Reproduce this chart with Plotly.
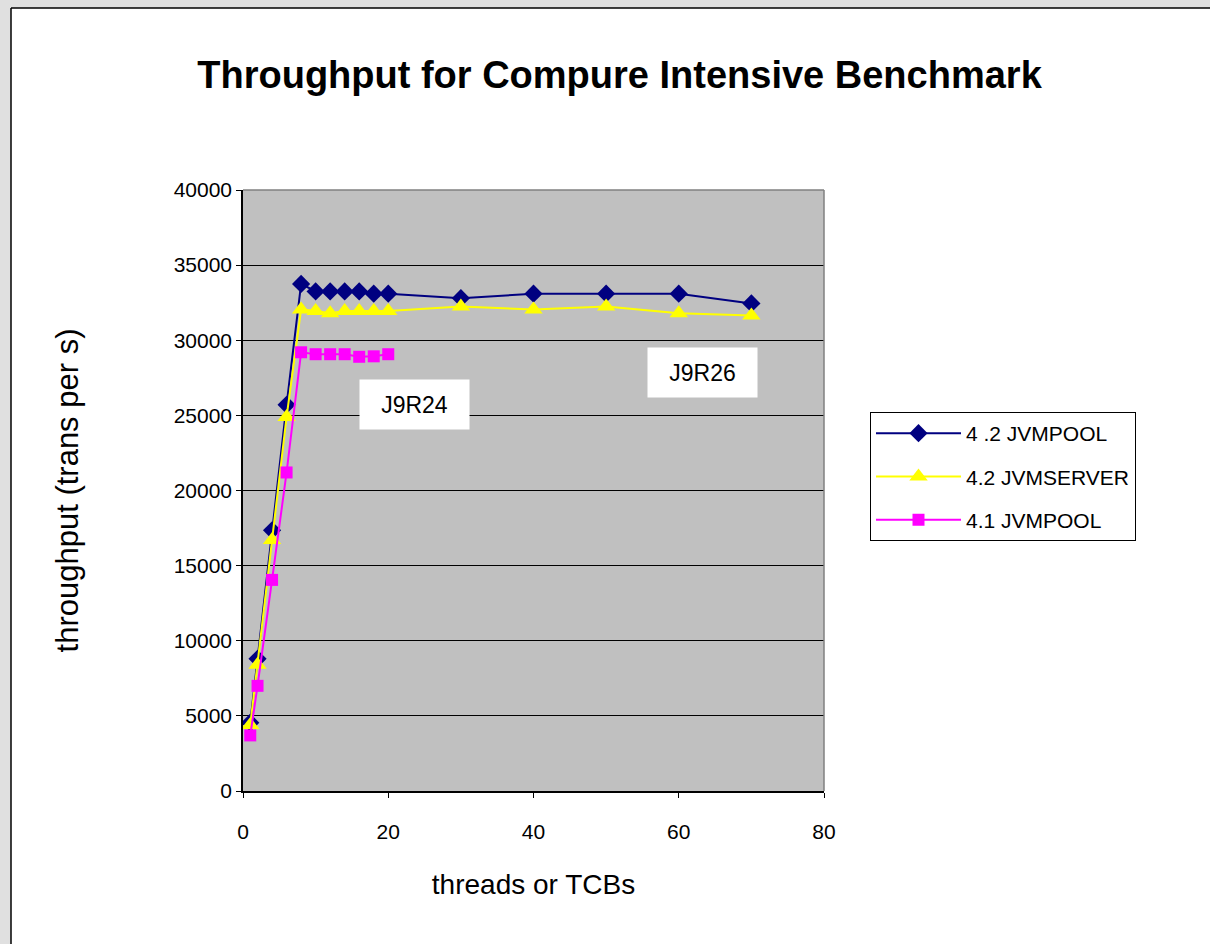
import plotly.graph_objects as go

threads = [1, 2, 4, 6, 8, 10, 12, 14, 16, 18, 20, 30, 40, 50, 60, 70]
jvmpool_42 = [4550, 8800, 17350, 25700, 33750, 33250, 33250, 33250, 33250, 33100, 33100,
              32800, 33100, 33100, 33100, 32450]
jvmserver_42 = [4400, 8400, 16700, 24900, 32050, 31950, 31800, 31950, 31950, 31950, 31950,
                32250, 32050, 32250, 31800, 31650]
threads_41 = [1, 2, 4, 6, 8, 10, 12, 14, 16, 18, 20]
jvmpool_41 = [3700, 7000, 14050, 21200, 29200, 29070, 29070, 29070, 28900, 28930, 29070]

names = ["4 .2 JVMPOOL", "4.2 JVMSERVER", "4.1 JVMPOOL"]
labels = [("J9R24", 23.6, 25720), ("J9R26", 63.3, 27850)]

FONT = "Liberation Sans, Arial, sans-serif"
W, H = 1210, 944
L, R, T, B = 243, 824, 190, 791

fig = go.Figure()
fig.add_trace(go.Scatter(x=threads, y=jvmpool_42, name=names[0], mode="lines+markers",
                         legendgroup="a",
                         line=dict(color="#000080", width=2),
                         marker=dict(symbol="diamond", size=14, color="#000080")))
fig.add_trace(go.Scatter(x=threads, y=jvmserver_42, name=names[1], mode="lines+markers",
                         legendgroup="b",
                         line=dict(color="#FFFF00", width=2),
                         marker=dict(symbol="triangle-up", size=16, color="#FFFF00")))
fig.add_trace(go.Scatter(x=threads_41, y=jvmpool_41, name=names[2], mode="lines+markers",
                         legendgroup="c",
                         line=dict(color="#FF00FF", width=2),
                         marker=dict(symbol="square", size=12, color="#FF00FF")))


def px_x(p):
    return (p - L) / (R - L)


def px_y(p):
    return (B - p) / (B - T)


shapes = [
    # gray page margin on left and top, with black border of the chart area
    dict(type="rect", xref="paper", yref="paper", x0=px_x(-5), x1=px_x(11),
         y0=px_y(H + 5), y1=px_y(-5), fillcolor="#e0e0e0", line=dict(width=0), layer="below"),
    dict(type="rect", xref="paper", yref="paper", x0=px_x(-5), x1=px_x(W + 5),
         y0=px_y(8), y1=px_y(-5), fillcolor="#e0e0e0", line=dict(width=0), layer="below"),
    dict(type="line", xref="paper", yref="paper", x0=px_x(11), x1=px_x(11),
         y0=px_y(H + 5), y1=px_y(8), line=dict(color="black", width=1.5), layer="below"),
    dict(type="line", xref="paper", yref="paper", x0=px_x(11), x1=px_x(W + 5),
         y0=px_y(8), y1=px_y(8), line=dict(color="black", width=1.5), layer="below"),
    # plot area border (gray, top and right)
    dict(type="line", xref="paper", yref="paper", x0=1, x1=1, y0=0, y1=1,
         line=dict(color="#808080", width=1.5)),
    dict(type="line", xref="paper", yref="paper", x0=0, x1=1, y0=1, y1=1,
         line=dict(color="#808080", width=1.5)),
]

annotations = []
for txt, ax, ay in labels:
    annotations.append(dict(x=ax, y=ay, xref="x", yref="y", text=txt, showarrow=False,
                            bgcolor="white", borderpad=0, width=109, height=49,
                            font=dict(family=FONT, size=23, color="black")))

fig.update_layout(
    width=W, height=H,
    margin=dict(l=L, r=W - R, t=T, b=H - B),
    paper_bgcolor="white",
    plot_bgcolor="#c0c0c0",
    font=dict(family=FONT, size=21, color="black"),
    title=dict(text="<b>Throughput for Compure Intensive Benchmark</b>",
               x=0.512, xanchor="center", y=1 - 75 / H, yanchor="middle",
               font=dict(family=FONT, size=38, color="black")),
    xaxis=dict(range=[0, 80], dtick=20, showgrid=False, zeroline=False,
               showline=True, linecolor="black", linewidth=1.5,
               ticks="outside", ticklen=5, tickcolor="black",
               tickfont=dict(size=21), ticklabelstandoff=16,
               title=dict(text="threads or TCBs", font=dict(size=28), standoff=32)),
    yaxis=dict(range=[0, 40000], dtick=5000, tickformat="d",
               showgrid=True, gridcolor="black", gridwidth=1,
               zeroline=False, showline=True, linecolor="black", linewidth=1.5,
               ticks="outside", ticklen=5, tickcolor="black",
               tickfont=dict(size=21),
               title=dict(text="throughput (trans per s)", font=dict(size=31), standoff=86)),
    legend=dict(x=px_x(870), y=px_y(412), xanchor="left", yanchor="top",
                bgcolor="white", bordercolor="black", borderwidth=1,
                font=dict(family=FONT, size=21), tracegroupgap=13,
                itemwidth=85, entrywidth=280, entrywidthmode="pixels"),
    shapes=shapes,
    annotations=annotations,
)

fig.write_html("out.html")
